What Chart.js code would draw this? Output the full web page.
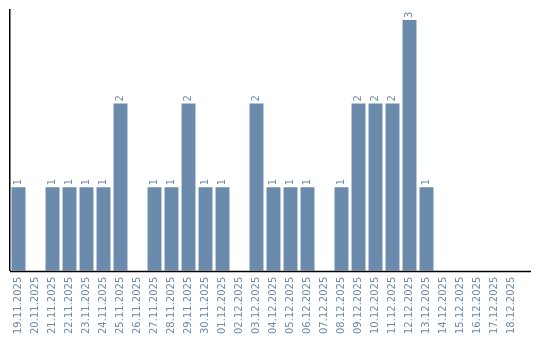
<!DOCTYPE html>
<html>
<head>
<meta charset="utf-8">
<script src="https://cdn.jsdelivr.net/npm/chart.js@4"></script>
<style>
  html, body { margin: 0; padding: 0; background: #fff; }
  #wrap { width: 540px; height: 340px; }
</style>
</head>
<body>
<div id="wrap"><canvas id="dailyChart"></canvas></div>
<script>
// Days shown on the x axis
var days = ['19.11.2025', '20.11.2025', '21.11.2025', '22.11.2025', '23.11.2025',
  '24.11.2025', '25.11.2025', '26.11.2025', '27.11.2025', '28.11.2025',
  '29.11.2025', '30.11.2025', '01.12.2025', '02.12.2025', '03.12.2025',
  '04.12.2025', '05.12.2025', '06.12.2025', '07.12.2025', '08.12.2025',
  '09.12.2025', '10.12.2025', '11.12.2025', '12.12.2025', '13.12.2025',
  '14.12.2025', '15.12.2025', '16.12.2025', '17.12.2025', '18.12.2025'];
// Count per day
var counts = [1, 0, 1, 1, 1, 1, 2, 0, 1, 1,
  2, 1, 1, 0, 2, 1, 1, 1, 0, 1,
  2, 2, 2, 3, 1, 0, 0, 0, 0, 0];

var slate = '#6a8bab';
var labelFont = '10px "DejaVu Sans", Verdana, sans-serif';

// Small plugin: value written above each bar, rotated like the axis labels,
// plus the x axis line running a bit past the last day
var valueLabels = {
  id: 'valueLabels',
  afterDatasetsDraw: function (chart) {
    var ctx = chart.ctx;
    var area = chart.chartArea;
    var meta = chart.getDatasetMeta(0);
    ctx.save();
    ctx.strokeStyle = '#000';
    ctx.lineWidth = 1.5;
    ctx.beginPath();
    ctx.moveTo(area.left, area.bottom + 0.75);
    ctx.lineTo(area.right + 11, area.bottom + 0.75);
    ctx.stroke();

    ctx.font = labelFont;
    ctx.fillStyle = slate;
    ctx.textAlign = 'left';
    ctx.textBaseline = 'middle';
    meta.data.forEach(function (bar, i) {
      if (!counts[i]) return;
      ctx.save();
      ctx.translate(bar.x, bar.y - 2);
      ctx.rotate(-Math.PI / 2);
      ctx.fillText(String(counts[i]), 0, 0);
      ctx.restore();
    });
    ctx.restore();
  }
};

var ctx = document.getElementById('dailyChart').getContext('2d');
var dailyChart = new Chart(ctx, {
  type: 'bar',
  data: {
    labels: days,
    datasets: [{
      data: counts,
      backgroundColor: slate,
      borderWidth: 0,
      barPercentage: 0.9,
      categoryPercentage: 0.91
    }]
  },
  options: {
    responsive: true,
    maintainAspectRatio: false,
    animation: false,
    layout: { padding: { left: 10, right: 20, top: 10, bottom: 0 } },
    plugins: {
      legend: { display: false },
      tooltip: { enabled: false }
    },
    scales: {
      x: {
        grid: { display: false, drawTicks: false },
        border: { display: false },
        ticks: {
          color: slate,
          font: { family: '"DejaVu Sans", Verdana, sans-serif', size: 10 },
          minRotation: 90,
          maxRotation: 90,
          autoSkip: false,
          padding: 6
        }
      },
      y: {
        min: 0,
        max: 3.12,
        grid: { display: false, drawTicks: false },
        border: { color: '#000', width: 1.5 },
        ticks: { display: false }
      }
    }
  },
  plugins: [valueLabels]
});
</script>
</body>
</html>
